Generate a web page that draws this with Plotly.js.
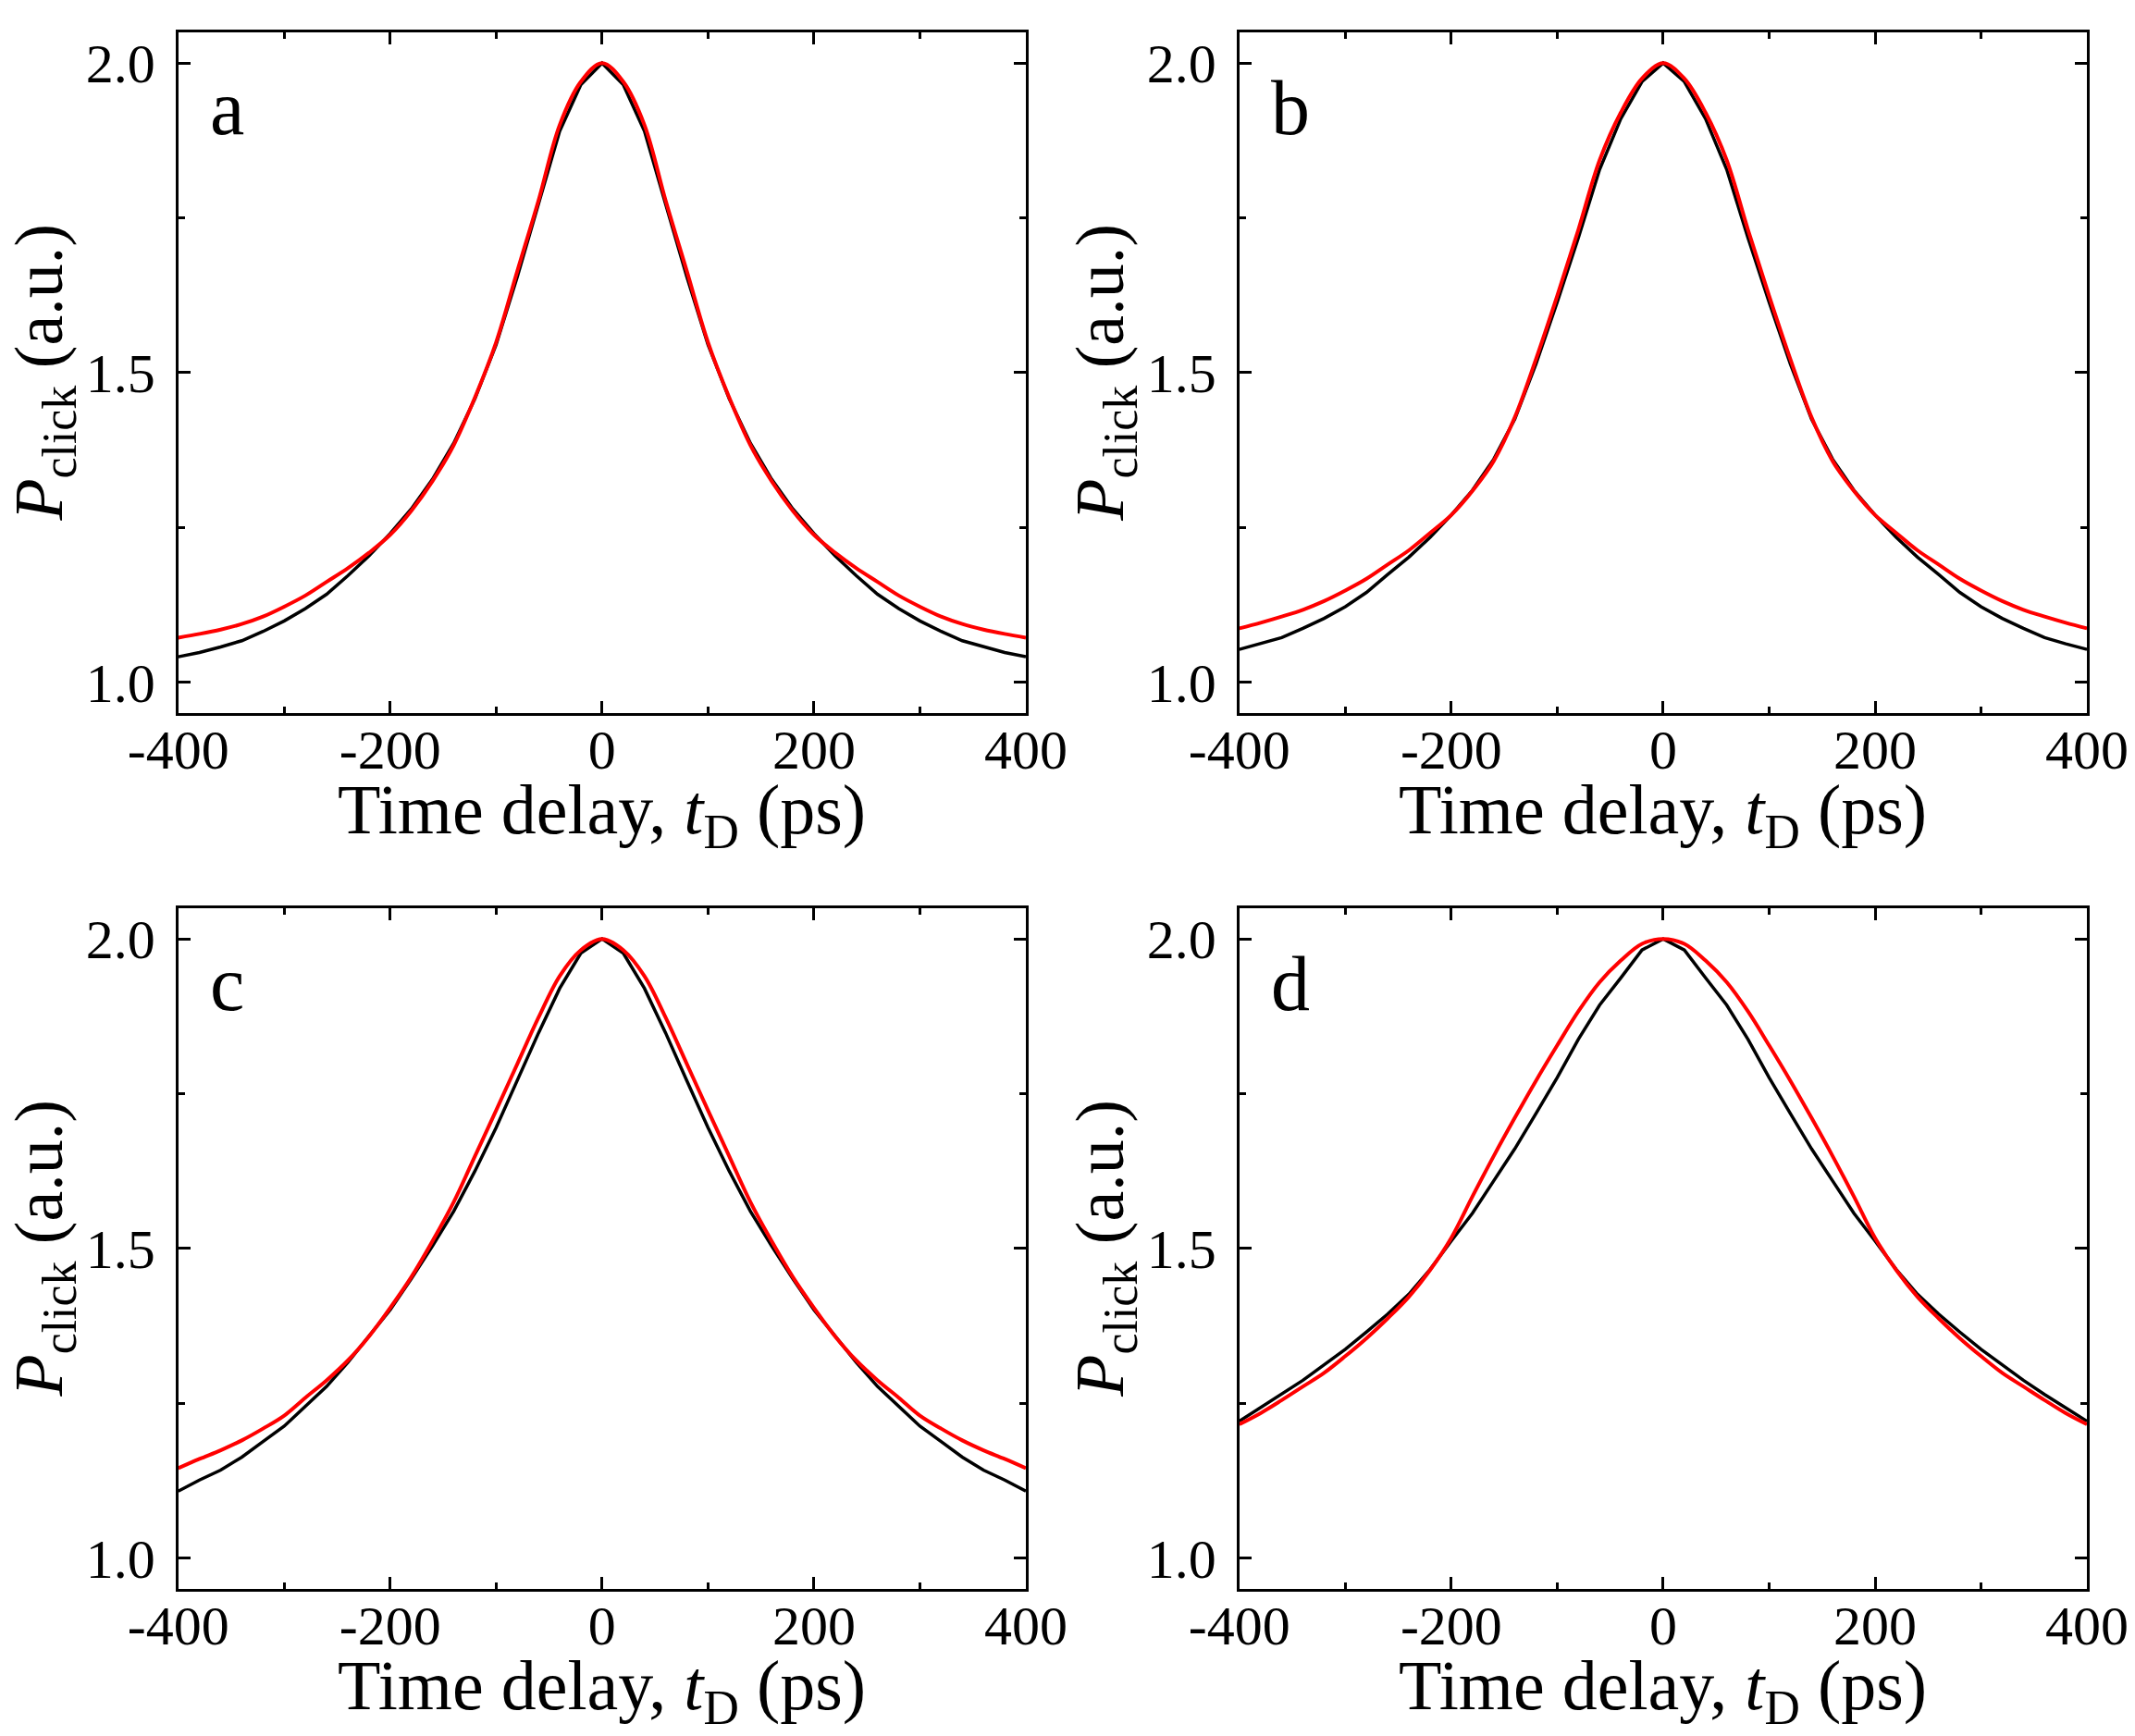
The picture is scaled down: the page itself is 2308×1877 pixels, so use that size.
<!DOCTYPE html>
<html>
<head>
<meta charset="utf-8">
<script src="https://cdn.plot.ly/plotly-3.0.1.min.js"></script>
<style>
  html, body { margin: 0; padding: 0; background: #fff; }
  #myGraph { width: 2308px; height: 1877px; }
</style>
</head>
<body>
<div id="myGraph"></div>
<script>
// time delay grid (ps)
let tDelay = [-400, -380, -360, -340, -320, -300, -280, -260, -240, -220, -200,
              -180, -160, -140, -120, -100, -80, -60, -40, -20, 0,
              20, 40, 60, 80, 100, 120, 140, 160, 180, 200,
              220, 240, 260, 280, 300, 320, 340, 360, 380, 400];

// panel a
let blackA = [1.041, 1.048, 1.057, 1.067, 1.082, 1.099, 1.119, 1.142, 1.172, 1.204, 1.240,
              1.280, 1.328, 1.386, 1.458, 1.545, 1.655, 1.772, 1.890, 1.965, 2.000,
              1.965, 1.890, 1.772, 1.655, 1.545, 1.458, 1.386, 1.328, 1.280, 1.240,
              1.204, 1.172, 1.142, 1.119, 1.099, 1.082, 1.067, 1.057, 1.048, 1.041];
let redA   = [1.072, 1.078, 1.085, 1.094, 1.106, 1.122, 1.140, 1.162, 1.184, 1.209, 1.238,
              1.277, 1.325, 1.383, 1.460, 1.549, 1.664, 1.778, 1.900, 1.970, 2.000,
              1.970, 1.900, 1.778, 1.664, 1.549, 1.460, 1.383, 1.325, 1.277, 1.238,
              1.209, 1.184, 1.162, 1.140, 1.122, 1.106, 1.094, 1.085, 1.078, 1.072];

// panel b
let blackB = [1.053, 1.062, 1.072, 1.087, 1.103, 1.122, 1.145, 1.174, 1.202, 1.234, 1.270,
              1.310, 1.360, 1.425, 1.514, 1.614, 1.718, 1.828, 1.910, 1.970, 2.000,
              1.970, 1.910, 1.828, 1.718, 1.614, 1.514, 1.425, 1.360, 1.310, 1.270,
              1.234, 1.202, 1.174, 1.145, 1.122, 1.103, 1.087, 1.072, 1.062, 1.053];
let redB   = [1.087, 1.096, 1.106, 1.117, 1.131, 1.148, 1.167, 1.190, 1.213, 1.241, 1.270,
              1.309, 1.357, 1.428, 1.522, 1.624, 1.731, 1.843, 1.920, 1.975, 2.000,
              1.975, 1.920, 1.843, 1.731, 1.624, 1.522, 1.428, 1.357, 1.309, 1.270,
              1.241, 1.213, 1.190, 1.167, 1.148, 1.131, 1.117, 1.106, 1.096, 1.087];

// panel c
let blackC = [1.108, 1.126, 1.142, 1.163, 1.188, 1.213, 1.245, 1.277, 1.316, 1.358, 1.401,
              1.451, 1.504, 1.560, 1.625, 1.695, 1.771, 1.848, 1.920, 1.977, 2.000,
              1.977, 1.920, 1.848, 1.771, 1.695, 1.625, 1.560, 1.504, 1.451, 1.401,
              1.358, 1.316, 1.277, 1.245, 1.213, 1.188, 1.163, 1.142, 1.126, 1.108];
let redC   = [1.145, 1.160, 1.174, 1.190, 1.209, 1.230, 1.259, 1.287, 1.319, 1.358, 1.404,
              1.454, 1.512, 1.575, 1.649, 1.723, 1.798, 1.873, 1.940, 1.982, 2.000,
              1.982, 1.940, 1.873, 1.798, 1.723, 1.649, 1.575, 1.512, 1.454, 1.404,
              1.358, 1.319, 1.287, 1.259, 1.230, 1.209, 1.190, 1.174, 1.160, 1.145];

// panel d
let blackD = [1.221, 1.243, 1.264, 1.287, 1.312, 1.337, 1.365, 1.394, 1.426, 1.466, 1.512,
              1.557, 1.609, 1.661, 1.718, 1.776, 1.838, 1.893, 1.937, 1.982, 2.000,
              1.982, 1.937, 1.893, 1.838, 1.776, 1.718, 1.661, 1.609, 1.557, 1.512,
              1.466, 1.426, 1.394, 1.365, 1.337, 1.312, 1.287, 1.264, 1.243, 1.221];
let redD   = [1.216, 1.234, 1.255, 1.277, 1.299, 1.326, 1.355, 1.387, 1.422, 1.465, 1.517,
              1.584, 1.649, 1.711, 1.771, 1.828, 1.883, 1.930, 1.965, 1.992, 2.000,
              1.992, 1.965, 1.930, 1.883, 1.828, 1.771, 1.711, 1.649, 1.584, 1.517,
              1.465, 1.422, 1.387, 1.355, 1.326, 1.299, 1.277, 1.255, 1.234, 1.216];

let panelLetters = ['a', 'b', 'c', 'd'];
let blackCurves = [blackA, blackB, blackC, blackD];
let redCurves = [redA, redB, redC, redD];

let xTicks = [-400, -200, 0, 200, 400];
let xTickText = ['-400', '-200', '0', '200', '400'];
let xMinorTicks = [-300, -100, 100, 300];
let yTicks = [1.0, 1.5, 2.0];
let yTickText = ['1.0', '1.5', '2.0'];
let yMinorTicks = [1.25, 1.75];

const FONT = '"Liberation Serif", "Times New Roman", Times, serif';

// panel placement (fractions of the page)
let xDomains = [[0.0835, 0.4805], [0.5805, 0.9775], [0.0835, 0.4805], [0.5805, 0.9775]];
let yDomains = [[0.5892, 0.9815], [0.5892, 0.9815], [0.0847, 0.4770], [0.0847, 0.4770]];

let data = [];
let layout = {
    width: 2308,
    height: 1877,
    margin: {l: 0, r: 0, t: 0, b: 0},
    paper_bgcolor: 'white',
    plot_bgcolor: 'white',
    showlegend: false,
    hovermode: false,
    font: {family: FONT, color: 'black'},
    annotations: []
};

for (let i = 0; i < 4; i++) {
    let n = i === 0 ? '' : String(i + 1);
    let xa = 'x' + n;
    let ya = 'y' + n;

    data.push({
        type: 'scatter',
        mode: 'lines',
        x: tDelay,
        y: blackCurves[i],
        xaxis: xa,
        yaxis: ya,
        line: {color: 'black', width: 3.5}
    });
    data.push({
        type: 'scatter',
        mode: 'lines',
        x: tDelay,
        y: redCurves[i],
        xaxis: xa,
        yaxis: ya,
        line: {color: '#ff0000', width: 4, shape: 'spline', smoothing: 1}
    });

    layout['xaxis' + n] = {
        domain: xDomains[i],
        anchor: ya,
        range: [-400, 400],
        tickmode: 'array',
        tickvals: xTicks,
        ticktext: xTickText,
        ticks: 'inside',
        ticklen: 13,
        tickwidth: 3,
        tickcolor: 'black',
        ticklabelstandoff: -15,
        minor: {tickmode: 'array', tickvals: xMinorTicks, ticks: 'inside', ticklen: 7, tickwidth: 3, tickcolor: 'black', showgrid: false},
        showline: true,
        linewidth: 3,
        linecolor: 'black',
        mirror: 'ticks',
        showgrid: false,
        zeroline: false,
        tickfont: {family: FONT, size: 60, color: 'black'}
    };
    layout['yaxis' + n] = {
        domain: yDomains[i],
        anchor: xa,
        range: [0.95, 2.05],
        tickmode: 'array',
        tickvals: yTicks,
        ticktext: yTickText,
        ticks: 'inside',
        ticklen: 13,
        tickwidth: 3,
        tickcolor: 'black',
        ticklabelstandoff: 10,
        minor: {tickmode: 'array', tickvals: yMinorTicks, ticks: 'inside', ticklen: 7, tickwidth: 3, tickcolor: 'black', showgrid: false},
        showline: true,
        linewidth: 3,
        linecolor: 'black',
        mirror: 'ticks',
        showgrid: false,
        zeroline: false,
        tickfont: {family: FONT, size: 60, color: 'black'}
    };

    // x axis title
    layout.annotations.push({
        text: 'Time delay, <i>t</i><sub>D</sub> (ps)',
        xref: xa + ' domain', yref: ya + ' domain',
        x: 0.5, y: 0,
        xanchor: 'center', yanchor: 'middle',
        yshift: -110,
        showarrow: false,
        font: {family: FONT, size: 76, color: 'black'}
    });
    // y axis title
    layout.annotations.push({
        text: '<i>P</i><sub>click</sub> (a.u.)',
        xref: xa + ' domain', yref: ya + ' domain',
        x: 0, y: 0.5,
        xanchor: 'center', yanchor: 'middle',
        xshift: -145,
        textangle: -90,
        showarrow: false,
        font: {family: FONT, size: 74, color: 'black'}
    });
    // panel letter
    layout.annotations.push({
        text: panelLetters[i],
        xref: xa + ' domain', yref: ya + ' domain',
        x: 0, y: 1,
        xanchor: 'left', yanchor: 'middle',
        xshift: 32, yshift: -82,
        showarrow: false,
        font: {family: FONT, size: 84, color: 'black'}
    });
}

Plotly.newPlot('myGraph', data, layout, {displayModeBar: false, staticPlot: true});
</script>
</body>
</html>
